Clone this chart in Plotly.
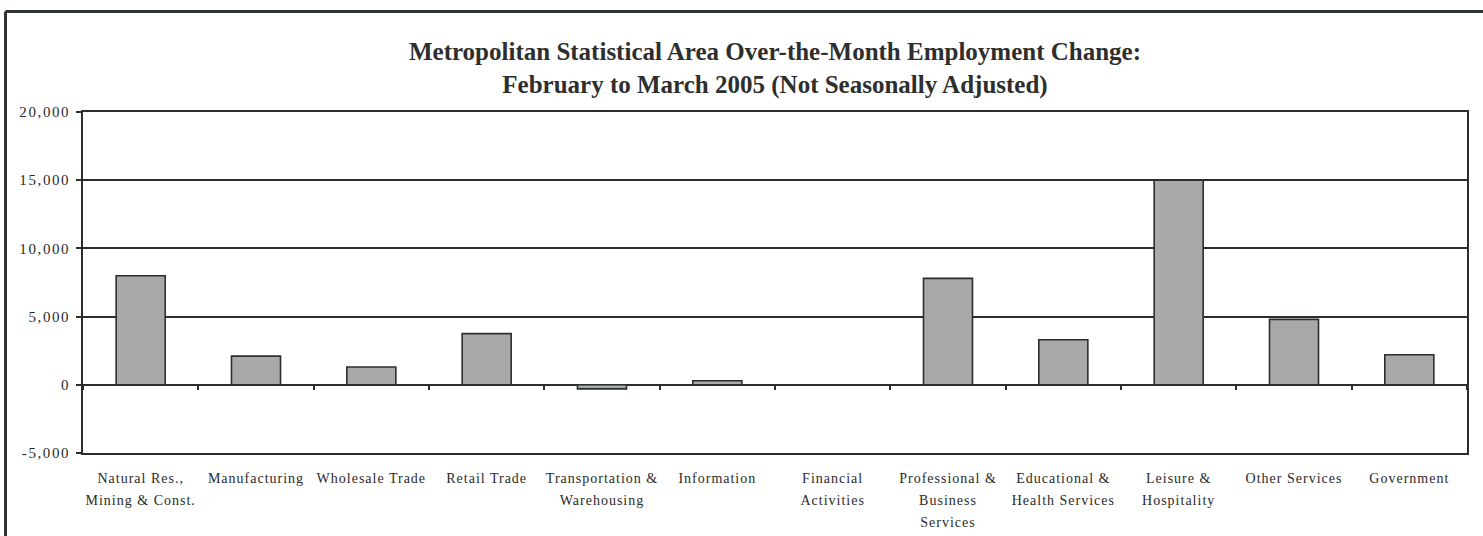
import plotly.graph_objects as go

# ---- data ----
categories = [
    "Natural Res.,<br>Mining & Const.",
    "Manufacturing",
    "Wholesale Trade",
    "Retail Trade",
    "Transportation &<br>Warehousing",
    "Information",
    "Financial<br>Activities",
    "Professional &<br>Business<br>Services",
    "Educational &<br>Health Services",
    "Leisure &<br>Hospitality",
    "Other Services",
    "Government",
]
values = [8000, 2100, 1300, 3750, -300, 300, 0, 7800, 3300, 15000, 4800, 2200]
y_tickvals = [-5000, 0, 5000, 10000, 15000, 20000]
y_ticktext = ["-5,000", "0", "5,000", "10,000", "15,000", "20,000"]
title_lines = [
    "Metropolitan Statistical Area Over-the-Month Employment Change:",
    "February to March 2005 (Not Seasonally Adjusted)",
]

# ---- layout constants ----
W, H = 1483, 536
ML, MR, MT, MB = 83, 16, 112, 83
PW = W - ML - MR
PH = H - MT - MB
FONT = "Liberation Serif, Times New Roman, serif"

def styled_cat(label):
    parts = label.split("<br>")
    return "<br>".join(
        f"<span style='font-size:14px;letter-spacing:1px'>{p}</span>" for p in parts
    )

cat_text = [styled_cat(c) for c in categories]
ytext = [f"<span style='letter-spacing:1.6px'>{t}</span>" for t in y_ticktext]

fig = go.Figure()
fig.add_trace(go.Bar(
    x=categories, y=values,
    marker=dict(color="#a9a9a9", line=dict(color="#2b2f2b", width=1.6)),
    showlegend=False, hoverinfo="x+y",
))
# invisible trace to carry the zero-line tick axis
fig.add_trace(go.Scatter(
    x=categories, y=values, xaxis="x2", mode="markers",
    marker=dict(opacity=0), showlegend=False, hoverinfo="skip",
))

zero_pos = (0 - y_tickvals[0]) / (y_tickvals[-1] - y_tickvals[0])

fig.update_layout(
    width=W, height=H, autosize=False,
    margin=dict(l=ML, r=MR, t=MT, b=MB),
    paper_bgcolor="white", plot_bgcolor="white",
    font=dict(family=FONT, color="#2a2a2a"),
    title=dict(
        text="<br>".join(title_lines),
        x=0.5, xanchor="center", xref="paper",
        y=1 - 60 / H, yanchor="top",
        font=dict(family=FONT, size=25, color="#2e2e2e", weight="bold"),
    ),
    bargap=0.575,
    xaxis=dict(
        type="category", categoryorder="array", categoryarray=categories,
        range=[-0.5, len(categories) - 0.5],
        tickmode="array", tickvals=categories, ticktext=cat_text,
        tickfont=dict(family=FONT, size=17, color="#2a2a2a"),
        showline=True, linecolor="#2b2f2b", linewidth=1.6, mirror=True,
        ticks="", showgrid=False, zeroline=False,
        tickangle=0, ticklabelstandoff=8, automargin=False,
        fixedrange=True,
    ),
    xaxis2=dict(
        type="category", categoryorder="array", categoryarray=categories,
        range=[-0.5, len(categories) - 0.5],
        overlaying="x", anchor="free", position=zero_pos,
        showline=False, ticks="outside", tickson="boundaries",
        ticklen=4, tickwidth=1.5, tickcolor="#2b2f2b",
        showticklabels=False, showgrid=False, zeroline=False,
        automargin=False,
    ),
    yaxis=dict(
        range=[y_tickvals[0], y_tickvals[-1]],
        tickmode="array", tickvals=y_tickvals, ticktext=ytext,
        tickfont=dict(family=FONT, size=15, color="#2a2a2a"),
        ticks="outside", ticklen=5, tickwidth=1.5, tickcolor="#2b2f2b",
        showgrid=True, gridcolor="#2b2f2b", gridwidth=1.6,
        zeroline=True, zerolinecolor="#2b2f2b", zerolinewidth=1.6,
        showline=True, linecolor="#2b2f2b", linewidth=1.6, mirror=True,
        ticklabelstandoff=3, automargin=False,
        fixedrange=True,
    ),
    shapes=[
        # outer frame (top and left edges)
        dict(type="line", xref="paper", yref="paper",
             x0=(5.5 - ML) / PW, x1=(W - ML) / PW,
             y0=(H - MB - 11.5) / PH, y1=(H - MB - 11.5) / PH,
             line=dict(color="#2f332f", width=3)),
        dict(type="line", xref="paper", yref="paper",
             x0=(5.5 - ML) / PW, x1=(5.5 - ML) / PW,
             y0=(H - MB - 11.5) / PH, y1=-MB / PH,
             line=dict(color="#2f332f", width=3)),
    ],
)

fig.write_html(
    "out.html",
    config={"displayModeBar": False, "responsive": False},
    post_script="document.body.style.margin='0';document.body.style.overflow='hidden';",
)
